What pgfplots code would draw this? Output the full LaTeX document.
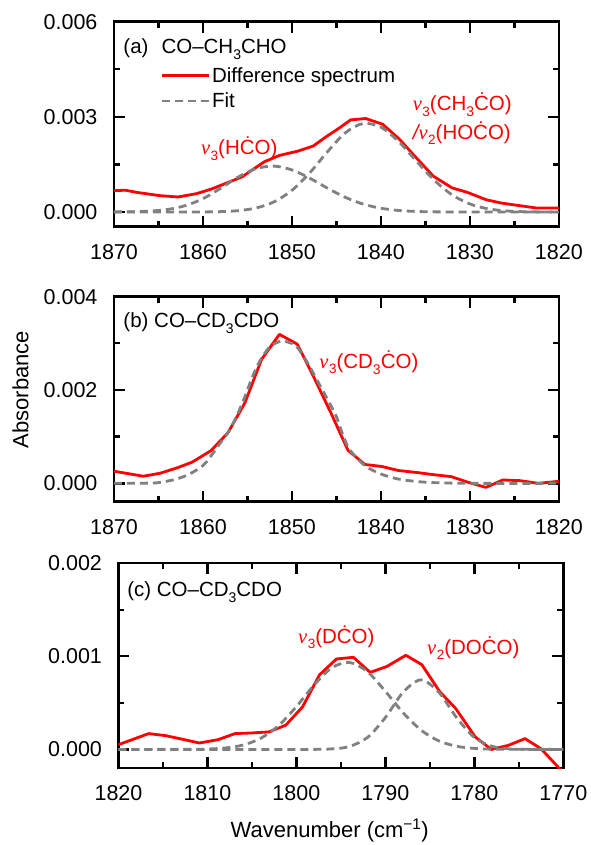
\documentclass[border=0pt]{standalone}
\usepackage{fontspec}
\setmainfont{Liberation Sans}
\newfontfamily\nufont{Liberation Serif}
\usepackage{pgfplots}
\pgfplotsset{compat=1.18}
\definecolor{specred}{RGB}{255,0,0}
\definecolor{fitgray}{RGB}{128,128,128}
\newcommand{\sub}[1]{\raisebox{-6pt}{\fontsize{14}{16}\selectfont #1}}
\newcommand{\nus}[1]{{\nufont\itshape ν}\kern0.5pt\raisebox{-5.5pt}{\fontsize{13.5}{15}\selectfont #1}}
\newcommand{\lbl}{\fontsize{20.5}{24}\selectfont}

\pgfplotsset{
  panel/.style={
    scale only axis, width=445pt, height=205pt,
    anchor=north west,
    x dir=reverse,
    xmin=1820, xmax=1870,
    xtick={1820,1830,...,1870},
    axis line style={line width=2.6pt},
    every tick/.style={black, line width=2.4pt},
    major tick length=11pt, minor tick length=6pt,
    tick align=inside,
    minor x tick num=1, minor y tick num=1,
    scaled y ticks=false,
    /pgf/number format/assume math mode=true,
    tick label style={font=\fontsize{21.5}{25}\selectfont},
    xticklabel style={/pgf/number format/1000 sep={}, yshift=-14pt},
    yticklabel style={/pgf/number format/fixed, /pgf/number format/fixed zerofill,
      /pgf/number format/precision=3, xshift=-13pt},
    label style={font=\fontsize{22}{26}\selectfont},
    every node/.append style={inner sep=0pt},
  },
  spec/.style={specred, line width=2.8pt, line join=round},
  fit/.style={fitgray, line width=2.8pt, dash pattern=on 8pt off 5pt, smooth},
}

\begin{document}
\begin{tikzpicture}
\path (0pt,0pt) rectangle (590pt,-845pt);

% (a)
\begin{axis}[panel, at={(114pt,-21.7pt)},
  ymin=-0.00046, ymax=0.006, ytick={0,0.003,0.006},
  legend style={draw=none, fill=none, at={(axis description cs:0.105,0.785)},
    anchor=north west, font=\lbl, row sep=6pt, inner sep=0pt,
    nodes={inner sep=1.5pt}},
  legend cell align=left,
  legend image code/.code={\draw[#1] (0pt,0pt) -- (47pt,0pt);}]
\addplot[spec] coordinates {(1870,0.000676) (1868.7,0.000687) (1867.5,0.000623)
  (1864.9,0.000518) (1862.8,0.000475) (1860.7,0.000581) (1859.0,0.000729)
  (1857.3,0.000919) (1855.6,0.001109) (1853.1,0.001584) (1851.4,0.001785)
  (1849.3,0.001922) (1847.6,0.002081) (1846.3,0.002345) (1844.6,0.002662)
  (1843.4,0.002905) (1841.7,0.002947) (1839.8,0.002768) (1837.9,0.002292)
  (1836.2,0.001764) (1834.1,0.001130) (1832.0,0.000761) (1830.3,0.000623)
  (1828.2,0.000391) (1826.5,0.000285) (1824.4,0.000201) (1822.5,0.000127)
  (1820,0.000127)};
\addlegendentry{Difference spectrum}
\addplot[fit] coordinates {(1870,0.000005) (1868,0.00001) (1866,0.00003)
  (1864,0.00008) (1862,0.0002) (1860,0.00042) (1858,0.00075) (1856,0.00111)
  (1854,0.00137) (1852,0.001448) (1850,0.001328) (1848,0.001068) (1846,0.000752)
  (1844,0.000464) (1842,0.000251) (1840,0.000119) (1838,0.000049) (1836,0.000018)
  (1834,0.000006) (1830,0) (1820,0)};
\addlegendentry{Fit}
\addplot[fit] coordinates {(1870,0) (1862,0.000001) (1860,0.000003) (1858,0.000013)
  (1856,0.000044) (1854,0.000129) (1852,0.000322) (1850,0.000683) (1848,0.001234)
  (1846,0.001901) (1844,0.002496) (1842,0.002792) (1840,0.002675) (1838,0.002223)
  (1836,0.001603) (1834,0.001002) (1832,0.000543) (1830,0.000255) (1828,0.000104)
  (1826,0.000037) (1824,0.000011) (1822,0.000003) (1820,0)};
\node[anchor=base west, font=\lbl] at (axis description cs:0.0135,0.847)
  {(a)\hspace{13pt}CO–CH\sub{3}CHO};
\node[anchor=base west, font=\lbl, text=specred] at (axis cs:1860.6,0.0018)
  {\nus{3}(HĊO)};
\node[anchor=base west, font=\lbl, text=specred] at (axis cs:1836.8,0.00319)
  {\nus{3}(CH\sub{3}ĊO)};
\node[anchor=base west, font=\lbl, text=specred] at (axis cs:1836.8,0.0023)
  {{\itshape /}\nus{2}(HOĊO)};
\end{axis}

% (b)
\begin{axis}[panel, at={(114pt,-296.7pt)},
  ymin=-0.00039, ymax=0.004, ytick={0,0.002,0.004},
  ylabel={Absorbance},
  ylabel style={at={(axis description cs:-0.21,0.547)}, anchor=center}]
\addplot[spec] coordinates {(1870,0.000260) (1866.7,0.000152) (1864.8,0.000217)
  (1862.9,0.000332) (1861.2,0.000455) (1859.1,0.00070) (1857.2,0.00108)
  (1855.3,0.001718) (1853.4,0.002657) (1851.4,0.003191) (1849.4,0.002982)
  (1847.5,0.002260) (1845.6,0.001502) (1843.7,0.000708) (1841.8,0.000404)
  (1839.9,0.000361) (1838.0,0.000274) (1835.9,0.000231) (1834.2,0.000188)
  (1832.1,0.000144) (1830.2,0.000022) (1828.2,-0.000087) (1826.3,0.000072)
  (1824.4,0.000058) (1822.3,0.0) (1820,0.000043)};
\addplot[fit] coordinates {(1870,0) (1866,0.000005) (1864.8,0.00002) (1863,0.00009)
  (1861.5,0.0002) (1860,0.00038) (1859.2,0.00056) (1858.1,0.00085) (1856.8,0.00121)
  (1855.5,0.00175) (1854.5,0.00225) (1853.6,0.00262) (1852.5,0.00292)
  (1851.2,0.00305) (1850.4,0.00302) (1849.5,0.00294) (1848.3,0.0026)
  (1847.2,0.00222) (1846,0.0018) (1845,0.00143) (1844.3,0.00105) (1843.5,0.00072)
  (1841.8,0.00038) (1840,0.0002) (1838,0.00009) (1836,0.00004) (1834,0.000015)
  (1830,0) (1820,0)};
\node[anchor=base west, font=\lbl] at (axis description cs:0.0135,0.848)
  {(b) CO–CD\sub{3}CDO};
\node[anchor=base west, font=\lbl, text=specred] at (axis cs:1847.3,0.00247)
  {\nus{3}(CD\sub{3}ĊO)};
\end{axis}

% (c)
\begin{axis}[panel, at={(118.5pt,-563.3pt)},
  xmin=1770, xmax=1820, xtick={1770,1780,...,1820},
  ymin=-0.0002, ymax=0.002, ytick={0,0.001,0.002},
  xlabel={Wavenumber (cm\textsuperscript{−1})},
  xlabel style={at={(axis description cs:0.475,-0.337)}, anchor=base}]
\addplot[spec] coordinates {(1820,0.000051) (1816.6,0.000170) (1814.7,0.000148)
  (1812.6,0.000105) (1810.9,0.000069) (1808.8,0.000105) (1806.9,0.000170)
  (1805.0,0.000177) (1803.1,0.000188) (1801.2,0.000260) (1799.3,0.000458)
  (1797.4,0.000801) (1795.5,0.000971) (1793.6,0.000989) (1791.7,0.000827)
  (1789.8,0.000892) (1787.7,0.001011) (1785.9,0.000910) (1783.9,0.000621)
  (1782.1,0.000440) (1779.9,0.000134) (1778.1,0.0) (1776.2,0.000043)
  (1774.3,0.000116) (1772.5,0.000007) (1770,-0.00025)};
\addplot[fit] coordinates {(1820,0) (1812,0.000001) (1810,0.000004) (1808,0.000016)
  (1806,0.000047) (1804,0.00012) (1802,0.000256) (1800,0.00046) (1798,0.000693)
  (1796,0.000878) (1794,0.000933) (1792,0.000833) (1790,0.000624) (1788,0.000393)
  (1786,0.000208) (1784,0.000092) (1782,0.000034) (1780,0.000011) (1778,0.000003)
  (1770,0)};
\addplot[fit] coordinates {(1820,0) (1800,0) (1796,0.000006) (1794,0.000033)
  (1792,0.000129) (1790,0.000342) (1788,0.000615) (1786,0.000747) (1784,0.000615)
  (1782,0.000342) (1780,0.000129) (1778,0.000033) (1776,0.000006) (1774,0) (1770,0)};
\node[anchor=base west, font=\lbl] at (axis description cs:0.012,0.836)
  {(c) CO–CD\sub{3}CDO};
\node[anchor=base west, font=\lbl, text=specred] at (axis cs:1800.2,0.00114)
  {\nus{3}(DĊO)};
\node[anchor=base west, font=\lbl, text=specred] at (axis cs:1785.7,0.00102)
  {\nus{2}(DOĊO)};
\end{axis}
\end{tikzpicture}
\end{document}
